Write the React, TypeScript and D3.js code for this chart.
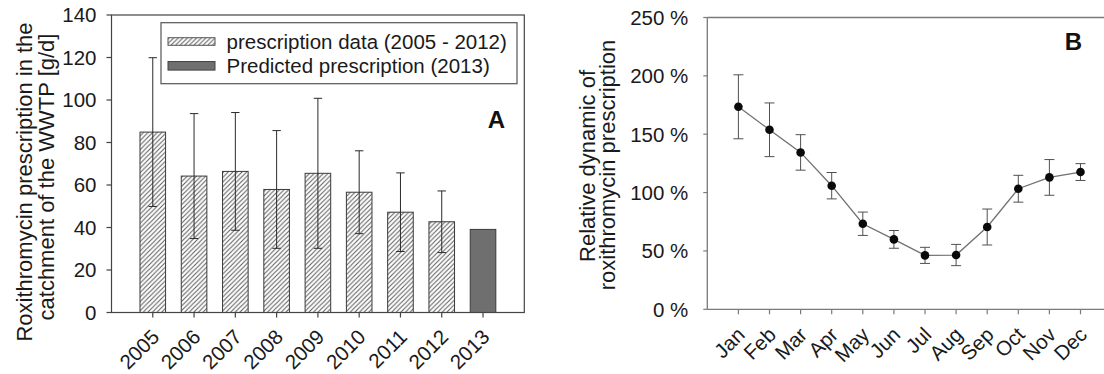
import React from "react";
import * as d3 from "d3";

const years = ["2005", "2006", "2007", "2008", "2009", "2010", "2011", "2012", "2013"];
const prescription = [84.9, 64.2, 66.4, 57.9, 65.5, 56.6, 47.2, 42.7, 39.1];
const prescriptionErr = [35.0, 29.4, 27.7, 27.7, 35.3, 19.5, 18.5, 14.5, 0];
const predicted = [false, false, false, false, false, false, false, false, true];
const leftTicks = [0, 20, 40, 60, 80, 100, 120, 140];

const months = ["Jan", "Feb", "Mar", "Apr", "May", "Jun", "Jul", "Aug", "Sep", "Oct", "Nov", "Dec"];
const relDynamic = [173.5, 153.8, 134.4, 105.9, 73.3, 59.9, 46.2, 46.5, 70.5, 103.3, 113.0, 117.6];
const relErr = [27.4, 23.0, 15.2, 11.3, 10.0, 7.6, 6.9, 9.1, 15.4, 11.5, 15.3, 7.2];
const rightTicks = [0, 50, 100, 150, 200, 250];

const legendLabels = ["prescription data (2005 - 2012)", "Predicted prescription (2013)"];

const FONT = "'Liberation Sans', Arial, Helvetica, sans-serif";
const TXT = "#1a1a1a";
const FS = 20.5;
const FT = 22;

export default function App() {
  // Panel A
  const aL = 111.5, aR = 524.3, aT = 15, aB = 312.5;
  const xA = d3.scaleBand<string>().domain(years).range([aL, aR]).paddingInner(0.38).paddingOuter(0.69);
  const yA = d3.scaleLinear().domain([0, 140]).range([aB, aT]);
  const axA = "#444";

  // Panel B
  const bL = 707.3, bT = 17.5, bB = 309.3;
  const xB = d3.scaleLinear().domain([0, 13]).range([bL, bL + 13 * 31.1]);
  const yB = d3.scaleLinear().domain([0, 250]).range([bB, bT]);
  const axB = "#7a7a7a";
  const line = d3
    .line<number>()
    .x((_, i) => xB(i + 1))
    .y((d) => yB(d));

  return (
    <svg
      width={1104}
      height={374}
      style={{ position: "absolute", left: 0, top: 0, background: "#fff" }}
      fontFamily={FONT}
    >
      <defs>
        <pattern id="hatch" patternUnits="userSpaceOnUse" width={4.6} height={4.6}>
          <rect width={4.6} height={4.6} fill="#fff" />
          <path d="M-1,1 L1,-1 M0,4.6 L4.6,0 M3.6,5.6 L5.6,3.6" stroke="#5a5a5a" strokeWidth={1} />
        </pattern>
      </defs>
      <rect x={0} y={0} width={1104} height={374} fill="#fff" />

      {/* ---------- Panel A ---------- */}
      {years.map((yr, i) => {
        const x = xA(yr)!;
        const w = xA.bandwidth();
        const v = prescription[i];
        return (
          <rect
            key={yr}
            x={x}
            y={yA(v)}
            width={w}
            height={yA(0) - yA(v)}
            fill={predicted[i] ? "#6f6f6f" : "url(#hatch)"}
            stroke="#3a3a3a"
            strokeWidth={1}
          />
        );
      })}
      {years.map((yr, i) => {
        const e = prescriptionErr[i];
        if (!e) return null;
        const cx = xA(yr)! + xA.bandwidth() / 2;
        const v = prescription[i];
        const hi = yA(v + e), lo = yA(v - e);
        return (
          <g key={"e" + yr} stroke="#2a2a2a" strokeWidth={1}>
            <line x1={cx} x2={cx} y1={hi} y2={lo} />
            <line x1={cx - 4.2} x2={cx + 4.2} y1={hi} y2={hi} />
            <line x1={cx - 4.2} x2={cx + 4.2} y1={lo} y2={lo} />
          </g>
        );
      })}
      {/* frame */}
      <rect x={aL} y={aT} width={aR - aL} height={aB - aT} fill="none" stroke={axA} strokeWidth={1.2} />
      {leftTicks.map((t) => (
        <g key={"ya" + t}>
          <line x1={aL - 5} x2={aL} y1={yA(t)} y2={yA(t)} stroke={axA} strokeWidth={1.2} />
          <text x={aL - 15} y={yA(t)} dy="0.36em" textAnchor="end" fontSize={FS} fill={TXT}>
            {t}
          </text>
        </g>
      ))}
      {years.map((yr) => {
        const cx = xA(yr)! + xA.bandwidth() / 2;
        return (
          <g key={"xa" + yr}>
            <line x1={cx} x2={cx} y1={aB} y2={aB + 5} stroke={axA} strokeWidth={1.2} />
            <text
              transform={`translate(${cx - 3},${aB + 15}) rotate(-45)`}
              textAnchor="end"
              dominantBaseline="hanging"
              fontSize={FS}
              fill={TXT}
            >
              {yr}
            </text>
          </g>
        );
      })}
      <text
        transform={`translate(24,182) rotate(-90)`}
        textAnchor="middle"
        dominantBaseline="central"
        fontSize={FT}
        fill={TXT}
      >
        Roxithromycin prescription in the
      </text>
      <text
        transform={`translate(46,177) rotate(-90)`}
        textAnchor="middle"
        dominantBaseline="central"
        fontSize={FT}
        fill={TXT}
      >
        catchment of the WWTP [g/d]
      </text>
      {/* legend */}
      <rect x={161} y={22.7} width={356} height={61} fill="#fff" stroke="#555" strokeWidth={1.2} />
      <rect x={168} y={37.7} width={47} height={7.6} fill="url(#hatch)" stroke="#555" strokeWidth={1} />
      <rect x={168} y={61.5} width={47} height={8.6} fill="#6f6f6f" stroke="#444" strokeWidth={1} />
      <text x={226.5} y={48.5} fontSize={FS} fill={TXT}>
        {legendLabels[0]}
      </text>
      <text x={226.5} y={72.5} fontSize={FS} fill={TXT}>
        {legendLabels[1]}
      </text>
      <text x={505} y={128} textAnchor="end" fontSize={24} fontWeight="bold" fill="#111">
        A
      </text>

      {/* ---------- Panel B ---------- */}
      <line x1={bL} x2={1104} y1={bT} y2={bT} stroke={axB} strokeWidth={1.3} />
      <line x1={bL} x2={1104} y1={bB} y2={bB} stroke={axB} strokeWidth={1.3} />
      <line x1={bL} x2={bL} y1={bT} y2={bB} stroke={axB} strokeWidth={1.3} />
      {rightTicks.map((t) => (
        <g key={"yb" + t}>
          <line x1={bL - 4} x2={bL} y1={yB(t)} y2={yB(t)} stroke={axB} strokeWidth={1.2} />
          <text x={bL - 19} y={yB(t)} dy="0.36em" textAnchor="end" fontSize={FS} fill={TXT}>
            {t} %
          </text>
        </g>
      ))}
      {months.map((m, i) => {
        const cx = xB(i + 1);
        return (
          <g key={"xb" + m}>
            <line x1={cx} x2={cx} y1={bB} y2={bB + 5} stroke={axB} strokeWidth={1.2} />
            <text
              transform={`translate(${cx - 3},${bB + 16}) rotate(-45)`}
              textAnchor="end"
              dominantBaseline="hanging"
              fontSize={FS}
              fill={TXT}
            >
              {m}
            </text>
          </g>
        );
      })}
      <path d={line(relDynamic) ?? ""} fill="none" stroke="#707070" strokeWidth={1.3} />
      {relDynamic.map((v, i) => {
        const cx = xB(i + 1);
        const hi = yB(v + relErr[i]), lo = yB(v - relErr[i]);
        return (
          <g key={"eb" + i} stroke="#505050" strokeWidth={1}>
            <line x1={cx} x2={cx} y1={hi} y2={lo} />
            <line x1={cx - 5} x2={cx + 5} y1={hi} y2={hi} />
            <line x1={cx - 5} x2={cx + 5} y1={lo} y2={lo} />
          </g>
        );
      })}
      {relDynamic.map((v, i) => (
        <circle key={"pt" + i} cx={xB(i + 1)} cy={yB(v)} r={4.3} fill="#0a0a0a" />
      ))}
      <text
        transform={`translate(587,166) rotate(-90)`}
        textAnchor="middle"
        dominantBaseline="central"
        fontSize={FT}
        fill={TXT}
      >
        Relative dynamic of
      </text>
      <text
        transform={`translate(607,165) rotate(-90)`}
        textAnchor="middle"
        dominantBaseline="central"
        fontSize={FT}
        fill={TXT}
      >
        roxithromycin prescription
      </text>
      <text x={1082} y={50} textAnchor="end" fontSize={24} fontWeight="bold" fill="#111">
        B
      </text>
    </svg>
  );
}
